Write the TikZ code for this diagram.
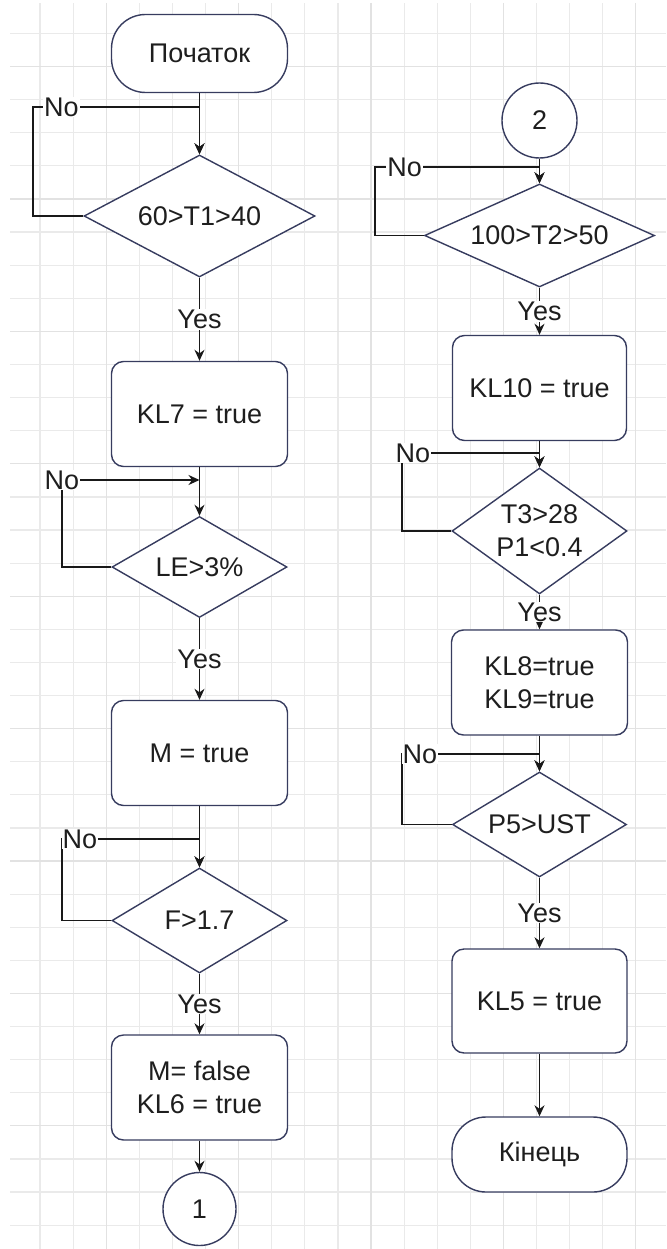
\documentclass[tikz,border=0pt]{standalone}
\usepackage{fontspec}
\setmainfont{Liberation Sans}
\usepackage{xcolor}
\usetikzlibrary{shapes.geometric,arrows.meta}
\definecolor{gridminor}{RGB}{234,234,234}
\definecolor{gridmajor}{RGB}{226,226,226}
\definecolor{boxline}{RGB}{55,60,95}
\definecolor{flowline}{RGB}{25,25,25}
\definecolor{txt}{RGB}{30,30,30}

\begin{document}
\begin{tikzpicture}[x=1pt,y=-1pt,
  base/.style={draw=boxline, line width=1.4pt, fill=white, align=center,
    font=\fontsize{27}{33}\selectfont, text=txt, inner sep=1pt},
  terminal/.style={base, rectangle, rounded corners=34pt, minimum width=176pt, minimum height=78pt},
  process/.style={base, rectangle, rounded corners=12pt, minimum width=176pt, minimum height=105pt},
  decision/.style={base, diamond, inner sep=0pt},
  connector/.style={base, circle, minimum size=73pt},
  flow/.style={draw=flowline, line width=1.5pt, -{Stealth[length=11pt,width=10pt]}},
  lbl/.style={fill=white, inner sep=1pt, font=\fontsize{27}{33}\selectfont, text=txt}
]
\useasboundingbox (0,0) rectangle (666,1249);

% Grid
\foreach \k in {0,...,18} {
    \pgfmathsetmacro{\gx}{40+33.1*\k}
    \draw[gridminor, line width=1.2pt] (\gx,3) -- (\gx,1249);
}
\foreach \k in {0,...,36} {
    \pgfmathsetmacro{\gy}{33.5+33.1*\k}
    \draw[gridminor, line width=1.2pt] (10,\gy) -- (666,\gy);
}
\foreach \k in {2,6,10,14,18} {
    \pgfmathsetmacro{\gx}{40+33.1*\k}
    \draw[gridmajor, line width=1.2pt] (\gx,3) -- (\gx,1249);
}
\foreach \k in {1,5,...,33} {
    \pgfmathsetmacro{\gy}{33.5+33.1*\k}
    \draw[gridmajor, line width=1.2pt] (10,\gy) -- (666,\gy);
}

% Left column
\node[terminal] (start) at (199.5,53.5) {Початок};
\node[decision, aspect=1.89, minimum width=231pt, minimum height=122pt] (t1) at (199.5,216) {60>T1>40};
\node[process] (kl7) at (199.5,414) {KL7 = true};
\node[decision, aspect=1.73, minimum width=175pt, minimum height=101pt] (le) at (199.5,567) {LE>3\%};
\node[process] (m) at (199.5,753) {M = true};
\node[decision, aspect=1.67, minimum width=175pt, minimum height=105pt] (f) at (199.5,920.5) {F>1.7};
\node[process] (kl6) at (199.5,1087.5) {M= false\\KL6 = true};
\node[connector] (c1) at (199.5,1209) {1};

% Right column
\node[connector, minimum size=75pt] (c2) at (539.5,120.5) {2};
\node[decision, aspect=2.23, minimum width=230pt, minimum height=103pt] (t2) at (539.5,235.5) {100>T2>50};
\node[process, minimum width=174pt] (kl10) at (539.5,388) {KL10 = true};
\node[decision, aspect=1.39, minimum width=175pt, minimum height=126pt] (t3) at (539.5,531) {T3>28\\P1<0.4};
\node[process] (kl8) at (539.5,682.5) {KL8=true\\KL9=true};
\node[decision, aspect=1.66, minimum width=174pt, minimum height=105pt] (p5) at (539.5,824.5) {P5>UST};
\node[process, minimum width=175pt, minimum height=104pt] (kl5) at (539.5,1001) {KL5 = true};
\node[terminal, minimum width=175pt, minimum height=75pt] (finish) at (539.5,1154.5) {Кінець};

% Left connectors
\draw[flow] (start) -- (t1);
\coordinate (no1) at (33,107);
\draw[flow] (t1.west) -| (no1) -- node[lbl, pos=0.17] {No} (no1 -| t1.north) -- (t1.north);
\draw[flow] (t1) -- node[lbl] {Yes} (kl7);
\draw[flow] (kl7) -- (le);
\coordinate (no2) at (62,480);
\draw[flow] (le.west) -| (no2) node[lbl] {No} -- (no2 -| le.north);
\draw[flow] (le) -- node[lbl] {Yes} (m);
\draw[flow] (m) -- (f);
\coordinate (no3) at (62,839);
\draw[flow] (f.west) -| (no3) -- node[lbl, pos=0.13] {No} (no3 -| f.north) -- (f.north);
\draw[flow] (f) -- node[lbl] {Yes} (kl6);
\draw[flow] (kl6) -- (c1);

% Right connectors
\draw[flow] (c2) -- (t2);
\coordinate (no4) at (375,167);
\draw[flow] (t2.west) -| (no4) -- node[lbl, pos=0.18] {No} (no4 -| t2.north) -- (t2.north);
\draw[flow] (t2) -- node[lbl] {Yes} (kl10);
\draw[flow] (kl10) -- (t3);
\coordinate (no5) at (402,453);
\draw[flow] (t3.west) -| (no5) -- node[lbl, pos=0.08] {No} (no5 -| t3.north) -- (t3.north);
\draw[flow] (t3) -- node[lbl] {Yes} (kl8);
\draw[flow] (kl8) -- (p5);
\coordinate (no6) at (402,754);
\draw[flow] (p5.west) -| (no6) -- node[lbl, pos=0.13] {No} (no6 -| p5.north) -- (p5.north);
\draw[flow] (p5) -- node[lbl] {Yes} (kl5);
\draw[flow] (kl5) -- (finish);
\end{tikzpicture}
\end{document}
